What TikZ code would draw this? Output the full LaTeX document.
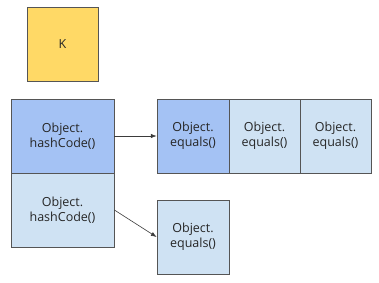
\documentclass[tikz,border=0pt]{standalone}
\usepackage{fontspec}
\setmainfont{Open Sans}
\usepackage{xcolor}
\usepackage{tikz}
\usetikzlibrary{arrows.meta,positioning}
\definecolor{keyyel}{HTML}{FFD966}
\definecolor{hashblu}{HTML}{A4C2F4}
\definecolor{lightblu}{HTML}{CFE2F3}
\definecolor{edge}{HTML}{555555}

\begin{document}
\begin{tikzpicture}[x=1pt,y=-1pt,>=Latex,
  cell/.style={draw=edge,line width=0.8pt,align=center,inner sep=0pt,
    minimum height=74pt,font=\fontsize{12.5}{15}\selectfont,text=black!85}]
\useasboundingbox[fill=white] (0,0) rectangle (379,282);
% key
\node[cell,fill=keyyel,minimum width=71pt] (key) at (62.5,44) {K};
% buckets
\node[cell,fill=hashblu,minimum width=103pt] (hashA) at (62.5,136) {Object.\\hashCode()};
\node[cell,fill=lightblu,minimum width=103pt] (hashB) at (62.5,210) {Object.\\hashCode()};
% chain of the first bucket
\node[cell,fill=hashblu,minimum width=72pt] (eqA) at (193,136) {Object.\\equals()};
\node[cell,fill=lightblu,minimum width=71pt] (eqB) at (264.5,136) {Object.\\equals()};
\node[cell,fill=lightblu,minimum width=71pt] (eqC) at (335.5,136) {Object.\\equals()};
% chain of the second bucket
\node[cell,fill=lightblu,minimum width=72pt] (eqD) at (193,237) {Object.\\equals()};
\draw[->,edge!70!black,line width=0.6pt] (hashA.east) -- (eqA.west);
\draw[->,edge!70!black,line width=0.6pt] (hashB.east) -- (eqD.west);
\end{tikzpicture}
\end{document}
